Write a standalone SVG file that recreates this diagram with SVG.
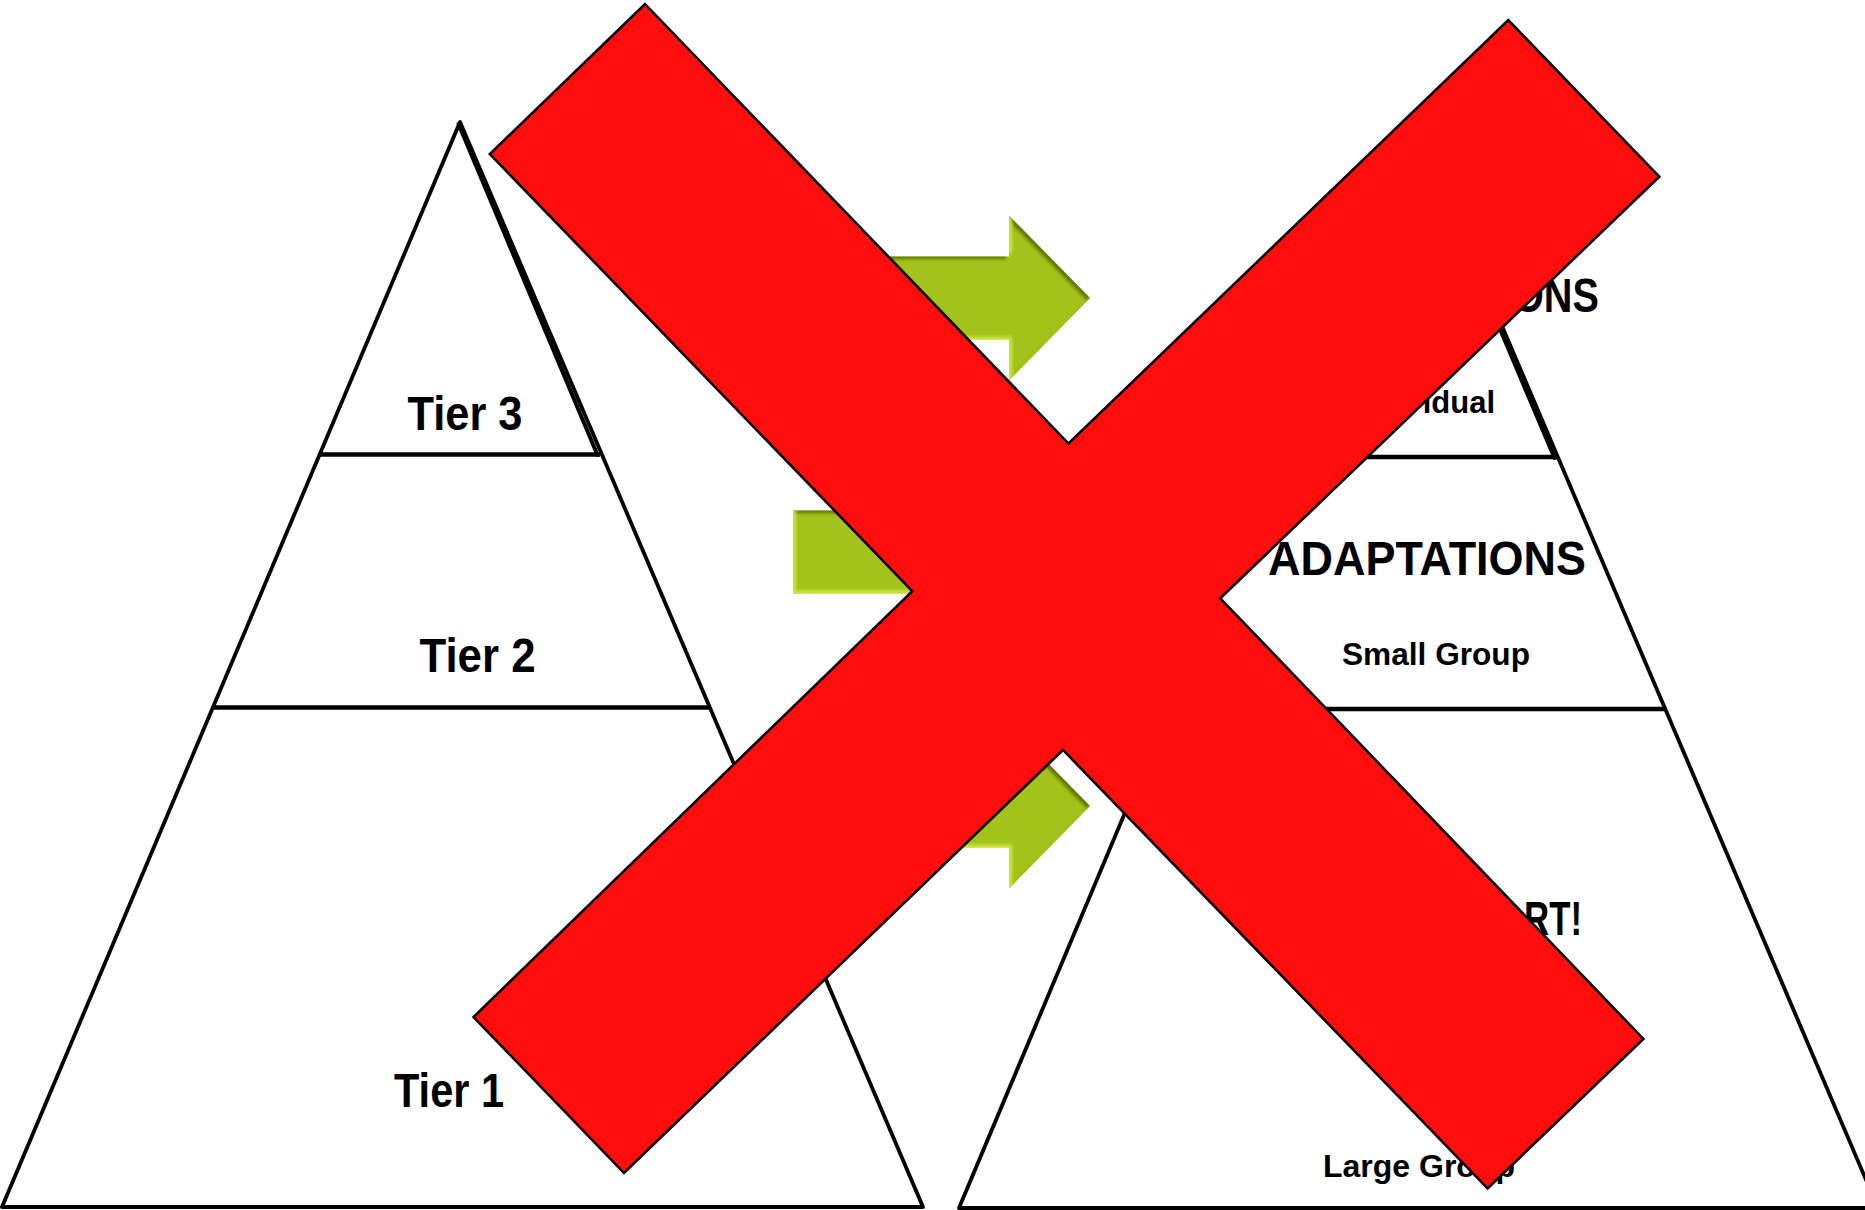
<svg xmlns="http://www.w3.org/2000/svg" width="1865" height="1210" viewBox="0 0 1865 1210">
<style>
.tri{fill:#fff;stroke:#000;stroke-width:3.8;stroke-linejoin:round}
.ln{stroke:#000;stroke-width:4.5;fill:none}
.thk{stroke:#000;stroke-width:4;fill:none;stroke-linecap:round}
.big{font-family:"Liberation Sans",Arial,sans-serif;font-weight:bold;font-size:49px;fill:#000}
.sm{font-family:"Liberation Sans",Arial,sans-serif;font-weight:bold;font-size:31px;fill:#000}
.arrow{fill:#a3c21f}
.x{fill:#fe0d0d;stroke:#000;stroke-width:2.5;stroke-linejoin:miter}
</style>
<defs>
<path id="arr" d="M793,-41.5 L1009,-41.5 L1009,-82.5 L1090,0 L1009,82.5 L1009,41.5 L793,41.5 Z"/>
<filter id="bevel" x="-5%" y="-10%" width="110%" height="120%">
<feGaussianBlur in="SourceAlpha" stdDeviation="1.5" result="b"/>
<feOffset in="b" dx="-3" dy="3" result="o1"/>
<feComposite in="SourceAlpha" in2="o1" operator="out" result="s1"/>
<feFlood flood-color="#55620a" flood-opacity="0.85"/>
<feComposite in2="s1" operator="in" result="shadow"/>
<feOffset in="b" dx="3" dy="-3" result="o2"/>
<feComposite in="SourceAlpha" in2="o2" operator="out" result="s2"/>
<feFlood flood-color="#d4ea46" flood-opacity="0.8"/>
<feComposite in2="s2" operator="in" result="hl"/>
<feMerge><feMergeNode in="SourceGraphic"/><feMergeNode in="shadow"/><feMergeNode in="hl"/></feMerge>
</filter>
</defs>
<rect width="1865" height="1210" fill="#fff"/>

<g id="pyramid-left">
<polygon class="tri" points="460,122 2,1207 923,1207"/>
<line class="thk" x1="458.5" y1="124" x2="597.5" y2="455"/>
<line class="ln" x1="320" y1="454.5" x2="600" y2="454.5"/>
<line class="ln" x1="213" y1="707.5" x2="709" y2="707.5"/>
<text class="big" x="465" y="430" text-anchor="middle" textLength="115" lengthAdjust="spacingAndGlyphs">Tier 3</text>
<text class="big" x="477.5" y="672" text-anchor="middle" textLength="116" lengthAdjust="spacingAndGlyphs">Tier 2</text>
<text class="big" x="449" y="1107" text-anchor="middle" textLength="110" lengthAdjust="spacingAndGlyphs">Tier 1</text>
</g>

<g id="pyramid-right">
<polygon class="tri" points="1415,122 959,1208 1878,1208"/>
<line class="thk" x1="1413.5" y1="124" x2="1554.5" y2="458"/>
<line class="ln" x1="1274" y1="457" x2="1557" y2="457"/>
<line class="ln" x1="1166" y1="709" x2="1665" y2="709"/>
<text class="big" x="1599" y="312" text-anchor="end" textLength="86" lengthAdjust="spacingAndGlyphs">ONS</text>
<text class="sm" x="1495" y="413" text-anchor="end">idual</text>
<text class="big" x="1427" y="575" text-anchor="middle" textLength="318" lengthAdjust="spacingAndGlyphs">ADAPTATIONS</text>
<text class="sm" x="1342" y="665" textLength="188" lengthAdjust="spacingAndGlyphs">Small Group</text>
<text class="big" x="1582" y="935" text-anchor="end" textLength="58" lengthAdjust="spacingAndGlyphs">RT!</text>
<text class="sm" x="1323" y="1177" textLength="192" lengthAdjust="spacingAndGlyphs">Large Group</text>
</g>

<g id="connectors">
<g id="arrow-top" filter="url(#bevel)"><use href="#arr" class="arrow" transform="translate(0,298)"/></g>
<g id="arrow-middle" filter="url(#bevel)"><use href="#arr" class="arrow" transform="translate(0,552)"/></g>
<g id="arrow-bottom" filter="url(#bevel)"><use href="#arr" class="arrow" transform="translate(0,806)"/></g>
</g>

<g id="red-x">
<polygon class="x" points="645,4 1068.5,443.5 1508.3,20.1 1659.4,176.7 1220.3,598.3 1643.5,1039 1487.6,1188.5 1063,750 624,1173 473.5,1017 912.3,591.1 489.8,154"/>
</g>
</svg>
